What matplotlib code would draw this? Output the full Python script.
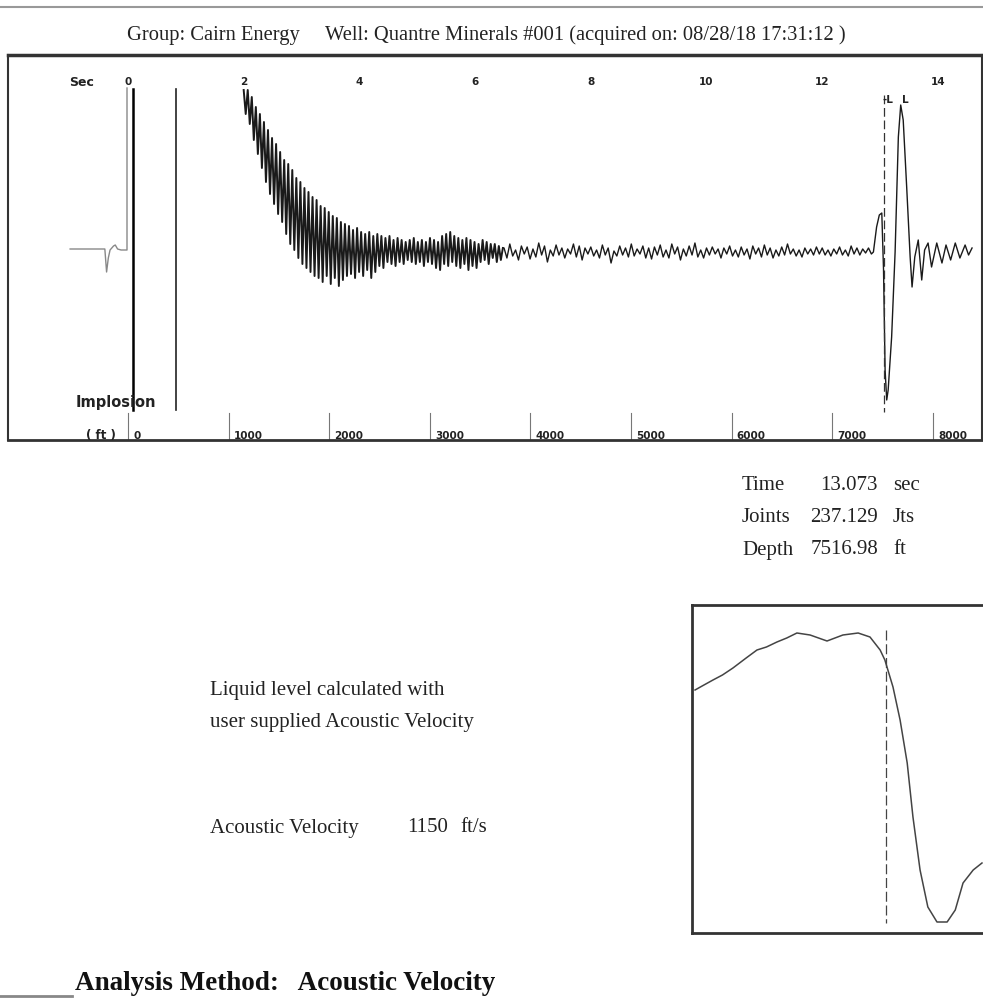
import numpy as np
import matplotlib
matplotlib.use("Agg")
import matplotlib.pyplot as plt

# header / results text
title = "Group: Cairn Energy     Well: Quantre Minerals #001 (acquired on: 08/28/18 17:31:12 )"
result_labels = ["Time", "Joints", "Depth"]
result_values = ["13.073", "237.129", "7516.98"]
result_units = ["sec", "Jts", "ft"]
velocity = 1150  # ft/s
ll_time = 13.073

# axis labels
sec_ticks = [0, 2, 4, 6, 8, 10, 12, 14]
depth_ticks = [0, 1000, 2000, 3000, 4000, 5000, 6000, 7000, 8000]
marker_times = [0.086, 0.825]

# pre-shot trace (t < 0)
pre_t = [-1.00, -0.40, -0.37, -0.34, -0.31, -0.25, -0.22, -0.18, -0.12, -0.017, -0.017]
pre_amp = [3, 3, -20, -6, 2, 6, 7, 3, 2, 2, 164]

# ringing after the shot, sampled every 0.035 s from t = 2.0
ring_amp = [
    162, 138, 162, 128, 155, 112, 145, 98, 138, 84,
    130, 70, 122, 58, 114, 48, 108, 38, 100, 30,
    92, 18, 88, 8, 82, 2, 74, -6, 70, -12,
    64, -16, 60, -20, 55, -24, 52, -26, 46, -30,
    44, -24, 40, -32, 36, -26, 34, -34, 30, -28,
    28, -24, 26, -22, 22, -26, 24, -20, 20, -24,
    18, -18, 20, -26, 16, -20, 18, -14, 16, -16,
    14, -10, 16, -12, 12, -14, 14, -10, 12, -12,
    10, -8, 12, -10, 14, -12, 10, -10, 12, -14,
    10, -10, 14, -12, 12, -16, 10, -18, 16, -12,
    18, -14, 20, -10, 16, -14, 14, -16, 12, -12,
    14, -18, 12, -14, 10, -16, 8, -10, 12, -8,
    10, -12, 8, -6, 8, -10, 6, -8, 4,
]

# background noise, sampled every 0.05 s from t = 6.5
noise_amp = [
    4, -6, 8, -4, 2, -8, 6, -2, 5, -7,
    3, -5, 9, -3, 6, -10, 2, -4, 7, -3,
    4, -6, 3, -2, 8, -5, 6, -8, 4, -2,
    5, -4, 2, -6, 7, -3, 4, -11, 1, -4,
    6, -3, 4, -5, 8, -4, 3, -2, 6, -6,
    4, -7, 5, -3, 7, -5, 2, -6, 8, -2,
    5, -8, 3, -4, 6, -3, 9, -5, 2, -6,
    4, -3, 5, -2, 3, -6, 4, -2, 6, -4,
    2, -5, 5, -3, 3, -7, 6, -2, 4, -5,
    7, -3, 4, -6, 2, -4, 5, -3, 8, -2,
    3, -4, 2, -5, 4, -2, 3, -3, 5, -2,
    4, -3, 2, -4, 3, -2, 5, -3, 2, -4,
    6, -2, 4, -3, 3, -1, 4, -2,
]

# liquid level echo
echo_t = [12.885, 12.94, 12.987, 13.03, 13.06, 13.087, 13.115, 13.14, 13.20, 13.26,
          13.316, 13.357, 13.40, 13.46, 13.52, 13.553, 13.60, 13.66, 13.72, 13.77,
          13.83, 13.89, 13.98, 14.07, 14.14, 14.22, 14.30, 14.38, 14.47, 14.53, 14.59]
echo_amp = [0, 25, 37, 39, -18, -118, -148, -138, -85, 0,
            115, 147, 132, 65, -5, -35, -5, 12, -28, 2,
            9, -15, 9, -11, 7, -8, 9, -6, 7, -3, 4]

# zoomed view around the liquid level
zoom_t = [12.509, 12.53, 12.562, 12.59, 12.621, 12.66, 12.692, 12.72, 12.751, 12.78,
          12.810, 12.849, 12.899, 12.946, 12.991, 13.026, 13.056, 13.070, 13.094, 13.115,
          13.136, 13.153, 13.174, 13.197, 13.224, 13.254, 13.278, 13.301, 13.331, 13.357]
zoom_amp = [79, 83, 89, 94, 101, 111, 119, 122, 127, 131,
            136, 134, 128, 134, 136, 132, 119, 109, 82, 49,
            6, -48, -101, -138, -153, -153, -141, -114, -101, -94]

W, H = 983, 1000
fig = plt.figure(figsize=(W / 100, H / 100), dpi=100)
serif = "Liberation Serif"
ink = "#222222"


def fx(x):
    return x / W


def fy(y):
    return 1 - y / H


# page lines
fig.add_artist(plt.Line2D([0, 1], [fy(7), fy(7)], color="#999999", lw=1.5))
fig.add_artist(plt.Line2D([0, fx(72)], [fy(996), fy(996)], color="#888888", lw=2))

fig.text(fx(486), fy(35), title, ha="center", va="center", fontsize=14.8, family=serif, color=ink)

# main trace panel
ax = fig.add_axes([fx(8), fy(440), fx(982 - 8), (440 - 55) / H])
ax.set_xlim(-2.074, 14.762)
ax.set_ylim(-188, 197)
ax.set_xticks([])
ax.set_yticks([])
for side, lw in [("top", 2.5), ("bottom", 2), ("left", 1.5), ("right", 1.5)]:
    ax.spines[side].set_linewidth(lw)
    ax.spines[side].set_color("#333333")

ring_t = 2.0 + 0.035 * np.arange(len(ring_amp))
noise_t = 6.5 + 0.05 * np.arange(len(noise_amp))
trace_t = np.concatenate([noise_t, echo_t])
trace_amp = np.concatenate([noise_amp, echo_amp])
ax.plot(ring_t, ring_amp, color="#1a1a1a", lw=1.4)
ax.plot(np.concatenate([ring_t[-1:], trace_t]), np.concatenate([ring_amp[-1:], trace_amp]),
        color="#1a1a1a", lw=1.0)
ax.plot(pre_t, pre_amp, color="#888888", lw=1.0)

ax.plot([marker_times[0]] * 2, [163, -158], color="black", lw=1.8)
ax.plot([marker_times[1]] * 2, [163, -158], color=ink, lw=1.2)
ax.plot([ll_time] * 2, [157, -160], color="#333333", lw=0.9, dashes=(7, 3))

lab = dict(fontsize=7.5, fontweight="bold", color=ink)
ax.text(-0.81, 170, "Sec", ha="center", va="center", fontsize=9, fontweight="bold", color=ink)
for s in sec_ticks:
    ax.text(s, 170, str(s), ha="center", va="center", **lab)
ax.text(-0.21, -150, "Implosion", ha="center", va="center", fontsize=10.5, fontweight="bold", color=ink)
ax.text(-0.47, -184, "( ft )", ha="center", va="center", fontsize=8.5, fontweight="bold", color=ink)
for d in depth_ticks:
    t = d / (velocity / 2)
    ax.plot([t, t], [-161, -188], color="#777777", lw=0.8)
    ax.text(t + 0.09, -184, str(d), ha="left", va="center", **lab)
ax.text(13.04, 152, "-L", ha="left", va="center", **lab)
ax.text(13.38, 152, "L", ha="left", va="center", **lab)

# results
rows_y = [485, 518, 550]
for name, val, unit, y in zip(result_labels, result_values, result_units, rows_y):
    fig.text(fx(742), fy(y), name, ha="left", va="center", fontsize=15, family=serif, color=ink)
    fig.text(fx(878), fy(y), val, ha="right", va="center", fontsize=15, family=serif, color=ink)
    fig.text(fx(893), fy(y), unit, ha="left", va="center", fontsize=15, family=serif, color=ink)

fig.text(fx(210), fy(690), "Liquid level calculated with", ha="left", va="center",
         fontsize=15, family=serif, color=ink)
fig.text(fx(210), fy(722), "user supplied Acoustic Velocity", ha="left", va="center",
         fontsize=15, family=serif, color=ink)
fig.text(fx(210), fy(828), "Acoustic Velocity", ha="left", va="center", fontsize=15, family=serif, color=ink)
fig.text(fx(448), fy(828), str(velocity), ha="right", va="center", fontsize=15, family=serif, color=ink)
fig.text(fx(460), fy(828), "ft/s", ha="left", va="center", fontsize=15, family=serif, color=ink)

# zoom panel
az = fig.add_axes([fx(692), fy(933), fx(983 - 692), (933 - 605) / H])
az.set_xlim(12.50, 13.36)
az.set_ylim(-164, 164)
az.set_xticks([])
az.set_yticks([])
az.spines["right"].set_visible(False)
for side in ["top", "bottom", "left"]:
    az.spines[side].set_linewidth(2)
    az.spines[side].set_color("#333333")
az.plot(zoom_t, zoom_amp, color="#444444", lw=1.1)
az.plot([ll_time] * 2, [139, -154], color="#444444", lw=0.9, dashes=(8, 3))

fig.text(fx(75), fy(984), "Analysis Method:   Acoustic Velocity", ha="left", va="center",
         fontsize=19.5, fontweight="bold", family=serif, color="#111111")

fig.savefig("out.png", dpi=100)
